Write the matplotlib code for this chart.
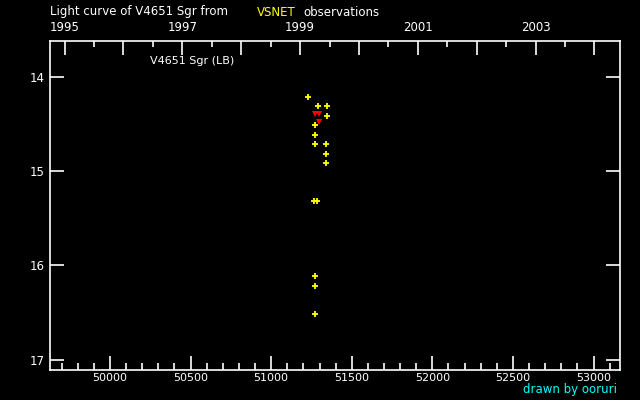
import matplotlib.pyplot as plt
from matplotlib.ticker import MultipleLocator, FixedLocator, NullFormatter

# observations (JD - 2400000, visual magnitude)
jd = [51227, 51289, 51345, 51345, 51271, 51271, 51271, 51339, 51339, 51339,
      51264, 51283, 51271, 51271, 51271]
mag = [14.21, 14.31, 14.31, 14.42, 14.51, 14.62, 14.71, 14.71, 14.82, 14.91,
       15.32, 15.32, 16.11, 16.22, 16.52]

# fainter-than observations (red)
jd_lim = [51274, 51298, 51298]
mag_lim = [14.39, 14.39, 14.48]

year_major = list(range(1995, 2005))
year_minor = [y + 0.5 for y in range(1995, 2004)]
year_labels = [1995, 1997, 1999, 2001, 2003]


def year_to_jd(y):
    return 49718.5 + (y - 1995) * 365.25


fig = plt.figure(figsize=(6.4, 4.0), dpi=100, facecolor='black')
ax = fig.add_axes([50 / 640, 1 - 370 / 400, 570 / 640, 329 / 400])
ax.set_facecolor('black')

ax.plot(jd, mag, '+', color='yellow', markersize=4, mew=1.3)
ax.plot(jd_lim, mag_lim, 'v', color='red', markersize=4, mew=0)

ax.set_xlim(49628, 53164)
ax.set_ylim(17.11, 13.62)

for s in ax.spines.values():
    s.set_color('white')
    s.set_linewidth(1.2)

ax.xaxis.set_major_locator(MultipleLocator(500))
ax.xaxis.set_minor_locator(MultipleLocator(100))
ax.yaxis.set_major_locator(MultipleLocator(1))
ax.tick_params(axis='x', which='both', direction='in', colors='white',
               labelsize=8, top=False, pad=2)
ax.tick_params(axis='x', which='major', length=10, width=1.2)
ax.tick_params(axis='x', which='minor', length=5, width=1.2)
ax.tick_params(axis='y', which='major', direction='in', colors='white',
               labelsize=8.5, right=True, length=10, width=1.2, pad=4)

# calendar years along the top
top = ax.twiny()
top.set_xlim(ax.get_xlim())
top.xaxis.set_major_locator(FixedLocator([year_to_jd(y) for y in year_major]))
top.xaxis.set_minor_locator(FixedLocator([year_to_jd(y) for y in year_minor]))
top.xaxis.set_major_formatter(NullFormatter())
top.tick_params(axis='x', which='major', direction='in', colors='white', length=10, width=1.2)
top.tick_params(axis='x', which='minor', direction='in', colors='white', length=4, width=1.2)
for s in top.spines.values():
    s.set_visible(False)
for y in year_labels:
    top.text(year_to_jd(y), 1.04, str(y), transform=top.get_xaxis_transform(),
             ha='center', va='center', color='white', fontsize=8.5)

ax.text(150 / 640, 1 - 61 / 400, 'V4651 Sgr (LB)', transform=fig.transFigure,
        color='white', fontsize=8, va='center')

fig.text(50 / 640, 1 - 12 / 400, 'Light curve of V4651 Sgr from', color='white',
         fontsize=8.5, va='center')
fig.text(257 / 640, 1 - 12 / 400, 'VSNET', color='yellow', fontsize=8.5, va='center')
fig.text(303 / 640, 1 - 12 / 400, 'observations', color='white', fontsize=8.5, va='center')
fig.text(617 / 640, 1 - 390 / 400, 'drawn by ooruri', color='cyan', fontsize=8.5,
         ha='right', va='center')

fig.savefig('out.png', dpi=100, facecolor='black')
